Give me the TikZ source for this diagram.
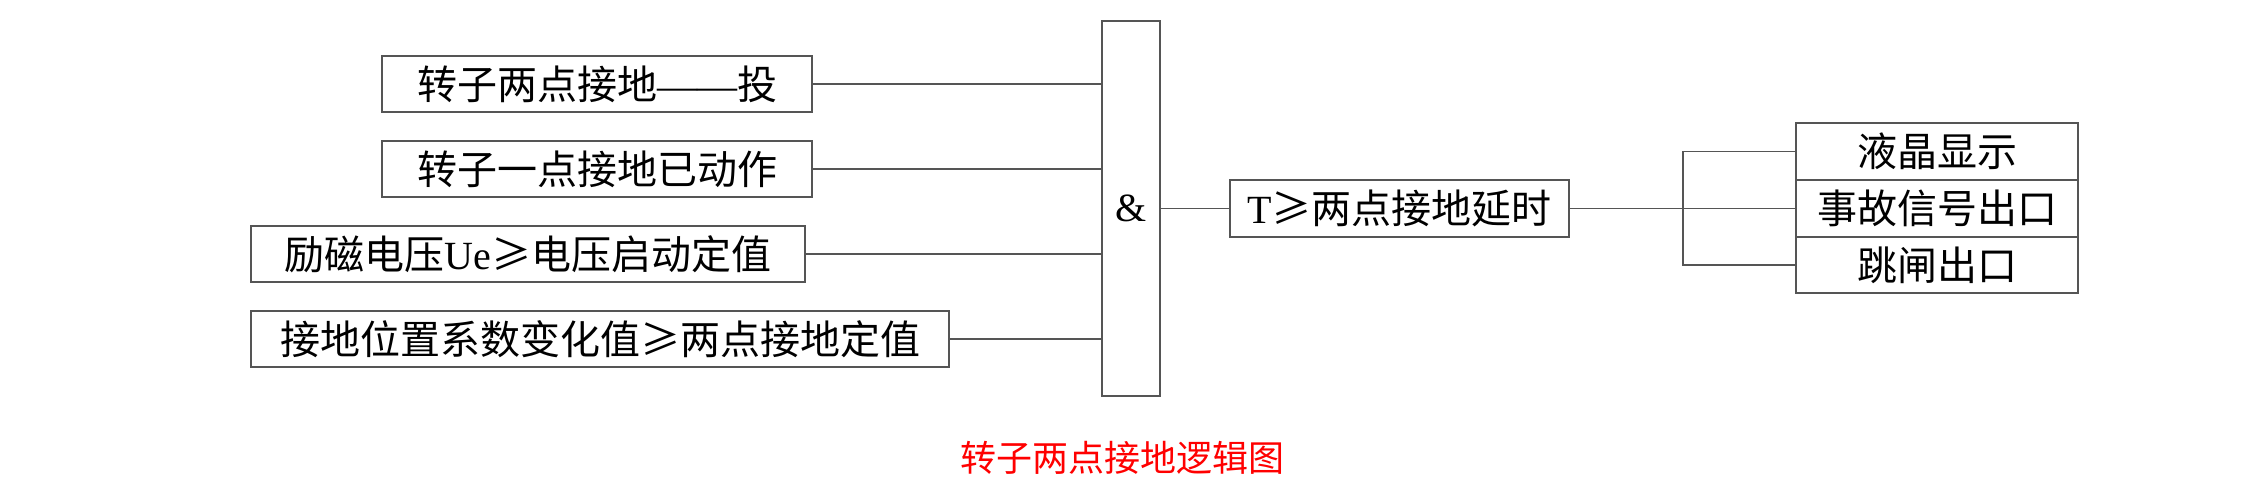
\documentclass[tikz,border=0pt]{standalone}
\usepackage{fontspec}
\setmainfont{Noto Sans CJK SC}
\newfontfamily\lat{Liberation Serif}
\definecolor{ln}{RGB}{85,85,85}
\begin{document}
\begin{tikzpicture}[x=1pt,y=-1pt,
  box/.style={draw=ln,line width=1.8pt,rectangle,inner sep=0pt,font=\fontsize{40}{44}\selectfont,text=black},
  wire/.style={draw=ln,line width=1.8pt}]
\useasboundingbox (0,0) rectangle (2245,489);
\fill[white] (0,0) rectangle (2245,489);
% inputs
\node[box,minimum width=430pt,minimum height=56pt] (b1) at (597,84) {转子两点接地{\lat ——}投};
\node[box,minimum width=430pt,minimum height=56pt] (b2) at (597,169) {转子一点接地已动作};
\node[box,minimum width=554pt,minimum height=56pt] (b3) at (528,254) {励磁电压{\lat Ue}≥电压启动定值};
\node[box,minimum width=698pt,minimum height=56pt] (b4) at (600,339) {接地位置系数变化值≥两点接地定值};
% AND gate
\node[box,minimum width=58pt,minimum height=375pt] (g) at (1131,208.5) {\lat\&};
% delay
\node[box,minimum width=339pt,minimum height=57pt] (d) at (1399.5,208.5) {{\lat T}≥两点接地延时};
% outputs
\node[box,minimum width=282pt,minimum height=57pt] (o1) at (1937,151.5) {液晶显示};
\node[box,minimum width=282pt,minimum height=57pt] (o2) at (1937,208.5) {事故信号出口};
\node[box,minimum width=282pt,minimum height=56pt] (o3) at (1937,265) {跳闸出口};
\coordinate (j) at (1683,208.5);
% connectors
\draw[wire] (b1.east) -- (b1.east -| g.west);
\draw[wire] (b2.east) -- (b2.east -| g.west);
\draw[wire] (b3.east) -- (b3.east -| g.west);
\draw[wire] (b4.east) -- (b4.east -| g.west);
\draw[wire] (g.east) -- (d.west);
\draw[wire] (d.east) -- (j);
\draw[wire] (o1.west) -- (o1.west -| j) -- (o3.west -| j) -- (o3.west);
\draw[wire] (j) -- (o2.west);
% title
\node[text=red,font=\fontsize{36}{40}\selectfont,inner sep=0pt] (t) at (1122,458) {转子两点接地逻辑图};
\end{tikzpicture}
\end{document}
